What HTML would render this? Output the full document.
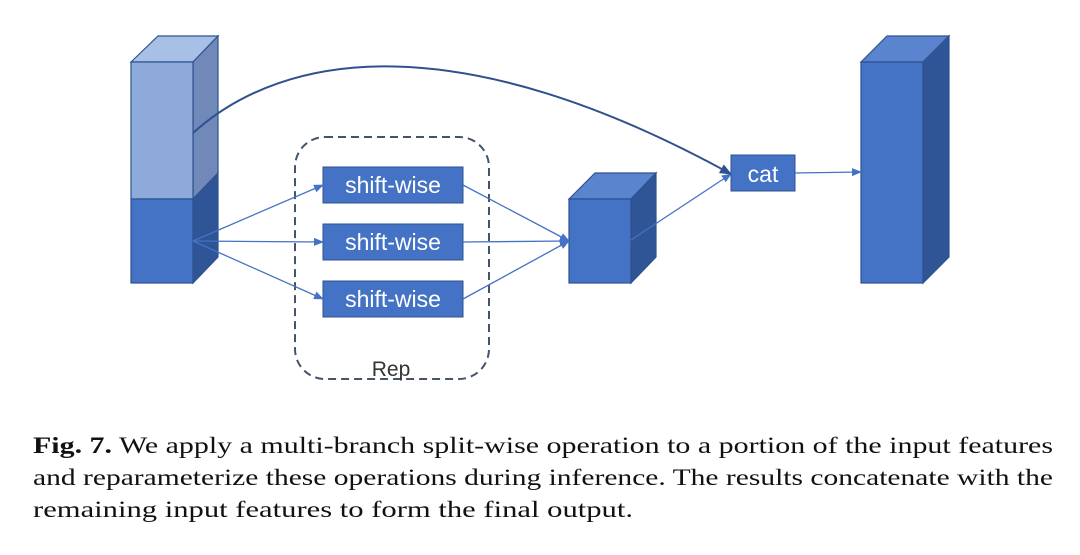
<!DOCTYPE html>
<html><head><meta charset="utf-8"><style>
body{margin:0;background:#fff;width:1080px;height:555px;overflow:hidden;position:relative}
</style></head><body>
<svg width="1080" height="555" style="position:absolute;left:0;top:0" font-family="Liberation Sans, sans-serif">
<defs>
<marker id="a" markerWidth="10" markerHeight="10" refX="9" refY="5" orient="auto" markerUnits="userSpaceOnUse"><path d="M0,1 L10,5 L0,9z" fill="#4472c4"/></marker>
<marker id="b" markerWidth="12" markerHeight="12" refX="11" refY="6" orient="auto" markerUnits="userSpaceOnUse"><path d="M0,1 L12,6 L0,11z" fill="#2f528f"/></marker>
</defs>
<g stroke="#2f528f" stroke-width="1.2">
<polygon points="131,62 158,36 218,36 193,62" fill="#a9c0e6"/>
<polygon points="193,62 218,36 218,173 193,199" fill="#7189b9"/>
<rect x="131" y="62" width="62" height="137" fill="#8eaadb"/>
<polygon points="193,199 218,173 218,257 193,283" fill="#2f5597"/>
<rect x="131" y="199" width="62" height="84" fill="#4472c4"/>
<polygon points="569,199 595,173 656,173 631,199" fill="#5b84cf"/>
<polygon points="631,199 656,173 656,257 631,283" fill="#2f5597"/>
<rect x="569" y="199" width="62" height="84" fill="#4472c4"/>
<polygon points="861,62 887,36 949,36 923,62" fill="#5b84cf"/>
<polygon points="923,62 949,36 949,257 923,283" fill="#2f5597"/>
<rect x="861" y="62" width="62" height="221" fill="#4472c4"/>
</g>
<rect x="295" y="137" width="194" height="242" rx="30" fill="none" stroke="#44546a" stroke-width="2" stroke-dasharray="8,5"/>
<g fill="#4472c4" stroke="#2f528f"><rect x="323" y="167" width="140" height="36"/><rect x="323" y="224" width="140" height="36"/><rect x="323" y="281" width="140" height="36"/><rect x="731" y="155" width="64" height="36"/></g>
<g fill="#fff" font-size="23" text-anchor="middle"><text x="393" y="193">shift-wise</text><text x="393" y="250">shift-wise</text><text x="393" y="307">shift-wise</text><text x="763" y="182">cat</text></g>
<text x="391" y="376" font-size="21" fill="#333" text-anchor="middle">Rep</text>
<g stroke="#4472c4" stroke-width="1.3" fill="none" marker-end="url(#a)">
<line x1="193" y1="241" x2="323" y2="185"/><line x1="193" y1="241" x2="323" y2="242"/><line x1="193" y1="241" x2="323" y2="299"/>
<line x1="463" y1="185" x2="569" y2="241"/><line x1="463" y1="242" x2="569" y2="241"/><line x1="463" y1="299" x2="569" y2="241"/>
<line x1="631" y1="240" x2="731" y2="174"/><line x1="795" y1="173" x2="861" y2="172"/>
</g>
<path d="M193,133 C285,50 460,25 731,174" stroke="#2f528f" stroke-width="2" fill="none" marker-end="url(#b)"/>
<g font-family="Liberation Serif, serif" font-size="23" fill="#111">
<text x="33" y="453" textLength="1020" lengthAdjust="spacingAndGlyphs"><tspan font-weight="bold">Fig. 7.</tspan>  We apply a multi-branch split-wise operation to a portion of the input features</text>
<text x="33" y="485" textLength="1020" lengthAdjust="spacingAndGlyphs">and reparameterize these operations during inference. The results concatenate with the</text>
<text x="33" y="517" textLength="600" lengthAdjust="spacingAndGlyphs">remaining input features to form the final output.</text>
</g>
</svg>
</body></html>
